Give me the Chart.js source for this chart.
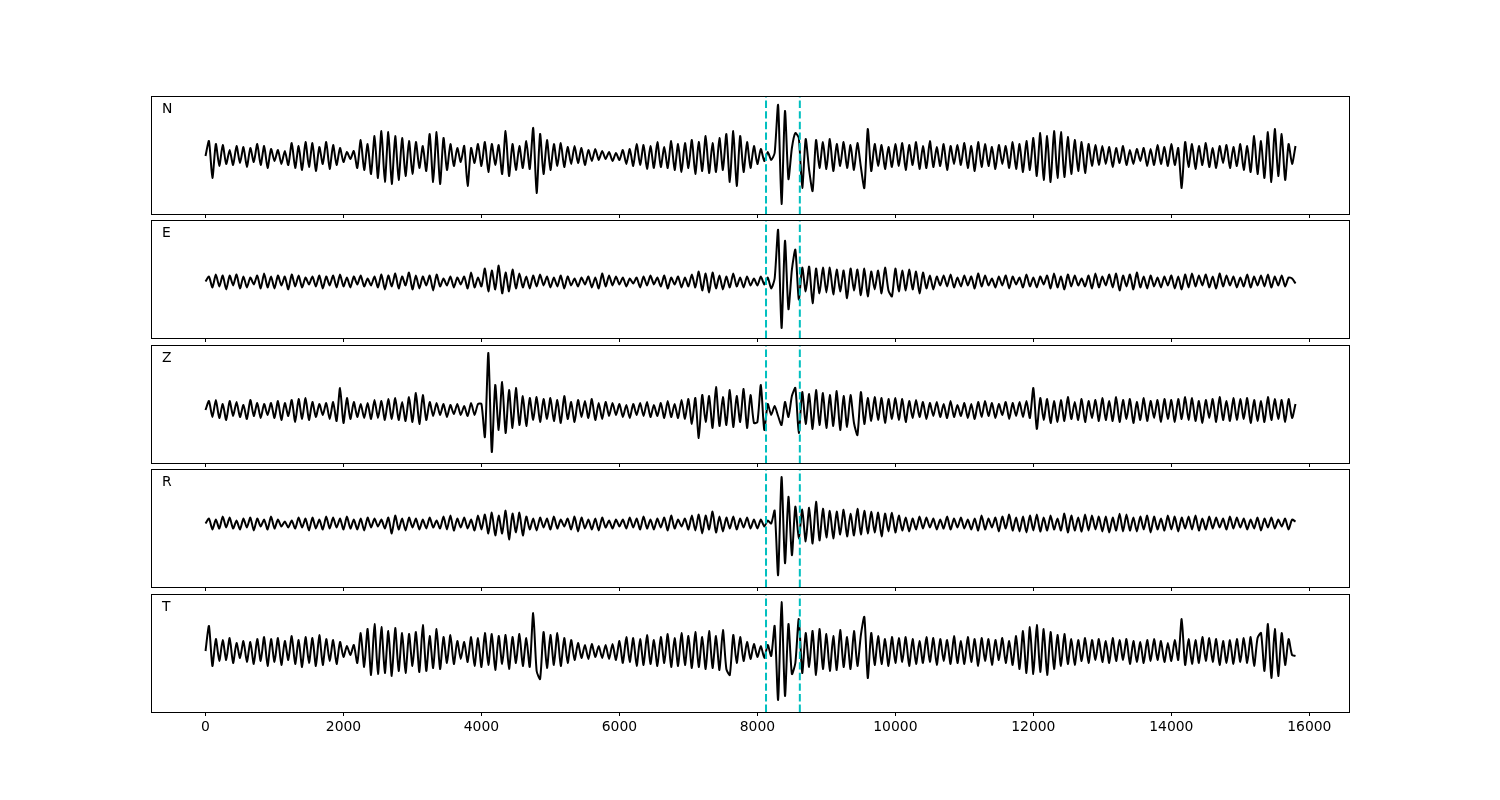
<!DOCTYPE html>
<html>
<head>
<meta charset="utf-8">
<script src="https://cdn.jsdelivr.net/npm/chart.js@4/dist/chart.umd.min.js"></script>
<style>
  body { margin: 0; background: #fff; }
  #wrap { position: relative; width: 1500px; height: 800px; }
  #wrap canvas { position: absolute; left: 0; }
</style>
</head>
<body>
<div id="wrap"></div>
<script>
// channel names, top to bottom
const channels = ['N', 'E', 'Z', 'R', 'T'];
// one value every 50 samples
const sampleStep = 50;
// phase picks (dashed lines)
const picks = [8125, 8615];
const xTicks = [0, 2000, 4000, 6000, 8000, 10000, 12000, 14000, 16000];

const nTrace = [
  0, 15, -22, 12, -10, 11, -8, 6, -9, 10, -7, 9, -11, 8, -6, 12, -9, 10, -12, 7,
  -5, 6, -8, 5, -9, 13, -12, 10, -14, 14, -11, 13, -15, 9, -8, 14, -13, 11, -9, 8,
  -6, 4, -3, 5, -12, 16, -14, 12, -18, 20, -22, 25, -26, 24, -28, 20, -24, 18, -20, 15,
  -18, 14, -12, 10, -15, 22, -26, 24, -28, 18, -14, 12, -10, 8, -6, 10, -30, 8, -7, 12,
  -10, 14, -16, 12, -9, 11, -18, 25, -20, 12, -14, 10, -12, 15, -13, 28, -37, 22, -18, 16,
  -14, 12, -10, 13, -11, 9, -8, 10, -7, 8, -9, 6, -5, 7, -4, 5, -3, 4, -5, 3,
  -4, 6, -8, 7, -10, 12, -9, 11, -13, 10, -12, 14, -11, 9, -12, 15, -14, 12, -16, 13,
  -12, 16, -18, 14, -15, 20, -17, 13, -16, 18, -14, 22, -26, 25, -30, 20, -16, 14, -12, 10,
  -8, 7, -5, 4, -4, 3, 51, -48, 45, -23, 8, 23, 18, -32, 17, -14, -35, 16, -12, 14,
  -13, 17, -15, 12, -10, 14, -12, 11, -14, 13, -11, -32, 27, -15, 12, -10, 11, -13, 9, -11,
  12, -10, 13, -14, 11, -9, 14, -13, 10, -12, 15, -11, 9, -10, 12, -14, 10, -8, 11, -9,
  13, -12, 10, -15, 14, -11, 12, -10, 9, -13, 11, -8, 10, -12, 14, -13, 12, -16, 15, -14,
  18, -20, 23, -24, 20, -26, 25, -22, 24, -21, 19, -18, 16, -15, 14, -17, 12, -10, 11, -9,
  10, -8, 9, -11, 8, -7, 10, -9, 6, -8, 7, -5, 8, -10, 7, -9, 11, -8, 9, -10,
  12, -9, 8, -32, 14, -11, 12, -13, 10, -9, 13, -11, 8, -12, 10, -7, 11, -12, 9, -10,
  12, -14, 10, -16, 20, -18, 15, -22, 24, -26, 27, -20, 22, -24, 12, -8, 10
];

const eTrace = [
  0, 5, -6, 7, -5, 6, -8, 6, -4, 7, -7, 5, -6, 4, -3, 6, -7, 8, -6, 5,
  -7, 6, -4, 5, -8, 7, -5, 6, -6, 4, -3, 5, -5, 6, -7, 5, -4, 6, -6, 7,
  -5, 4, -6, 5, -3, 6, -5, 3, -4, 5, -6, 7, -8, 6, -5, 8, -7, 5, -4, 9,
  -8, 6, -7, 5, -4, 6, -9, 7, -5, 3, -4, 5, -6, 4, -3, 5, -7, 9, -6, 4,
  -5, 13, -10, 11, -8, 16, -12, 9, -10, 12, -7, 8, -6, 5, -7, 6, -5, 7, -4, 5,
  -6, 4, -5, 6, -7, 5, -4, 3, -5, 4, -3, 5, -6, 4, -7, 8, -5, 6, -4, 5,
  -3, 4, -5, 3, -2, 4, -6, 5, -4, 6, -3, 4, -5, 6, -7, 4, -3, 5, -6, 4,
  -5, 7, -6, 10, -9, 8, -11, 9, -7, 6, -8, 5, -6, 8, -5, 4, -6, 5, -4, 3,
  -4, 5, -3, 4, -7, 3, 52, -47, 41, -28, 12, 32, -18, 14, -10, 15, -22, 13, -12, 14,
  -11, 14, -13, 12, -10, 11, -17, 13, -9, 12, -14, 13, -15, 10, -8, 11, -12, 14, -9, -15,
  13, -10, 11, -9, 12, -8, 10, -12, 9, -7, 6, -8, 5, -4, 6, -5, 7, -6, 4, -5,
  6, -4, 5, -7, 8, -5, 6, -4, 3, -6, 5, -4, 6, -7, 5, -3, 4, -6, 7, -5,
  4, -6, 5, -3, 6, -7, 8, -6, 5, -8, 7, -5, 6, -4, 3, -5, 6, -7, 8, -6,
  5, -4, 7, -6, 8, -9, 6, -5, 7, -8, 9, -6, 5, -7, 6, -5, 4, -6, 5, -4,
  6, -7, 5, -8, 7, -6, 8, -5, 6, -4, 7, -6, 5, -7, 8, -5, 6, -4, 5, -6,
  4, -5, 7, -6, 5, -4, 6, -5, 7, -6, 5, -4, 6, -5, 4, 3, -2
];

const zTrace = [
  0, 9, -7, 10, -8, 6, -10, 9, -6, 8, -7, 5, -9, 10, -6, 7, -8, 6, -5, 7,
  -8, 9, -10, 7, -6, 10, -12, 11, -9, 12, -10, 8, -7, 6, -5, 7, -9, 8, -11, 22,
  -13, 12, -9, 8, -7, 6, -8, 7, -9, 10, -8, 9, -10, 11, -9, 12, -10, 8, -11, 13,
  -12, 17, -14, 15, -10, 8, -6, 7, -5, 6, -7, 5, -4, 6, -5, 4, -6, 7, -5, 6,
  6, -27, 57, -42, 25, -20, 28, -23, 20, -18, 22, -15, 14, -16, 12, -10, 13, -12, 11, -9,
  12, -11, 10, -13, 14, -9, 8, -12, 10, -7, 9, -8, 11, -10, 7, -9, 8, -6, 7, -5,
  6, -7, 5, -8, 6, -5, 7, -6, 8, -7, 5, -6, 7, -8, 9, -7, 6, -8, 10, -9,
  11, -14, 12, -28, 15, -12, 14, -18, 23, -16, 13, -15, 20, -17, 14, -12, 21, -18, 15, -13,
  -12, 25, -20, 6, -5, 4, -6, -15, 8, -7, 14, 22, -23, 18, -14, 16, -19, 20, -15, 17,
  -18, 15, -16, 19, -20, 14, -17, 15, -13, -25, 18, -14, 12, -11, 13, -10, 12, -13, 11, -9,
  12, -10, 11, -12, 9, -8, 10, -7, 8, -9, 7, -6, 8, -7, 6, -8, 9, -7, 5, -6,
  7, -8, 6, -9, 8, -7, 9, -6, 7, -8, 6, -5, 8, -9, 7, -6, 8, -7, 9, -8,
  22, -19, 12, -10, 11, -13, 9, -12, 10, -11, 13, -9, 8, -10, 11, -12, 9, -8, 10, -11,
  12, -10, 9, -11, 13, -12, 10, -9, 11, -13, 8, -10, 12, -11, 9, -8, 10, -12, 11, -9,
  10, -12, 11, -9, 13, -10, 12, -11, 9, -13, 10, -8, 11, -12, 13, -10, 9, -11, 12, -10,
  11, -9, 12, -13, 10, -11, 9, -12, 13, -10, 11, -9, 10, -12, 11, -8, 6
];

const rTrace = [
  0, 5, -6, 4, -5, 7, -4, 6, -5, 3, -6, 5, -4, 6, -7, 5, -3, 4, -6, 7,
  -5, 4, -3, 2, -4, 3, -5, 6, -4, 5, -7, 6, -5, 4, -6, 7, -5, 6, -4, 5,
  -6, 7, -5, 4, -6, 5, -7, 6, -4, 5, -3, 4, -5, 6, -10, 8, -6, 5, -7, 6,
  -4, 5, -6, 4, -5, 6, -4, 3, -5, 7, -6, 8, -7, 5, -4, 6, -5, 4, -7, 8,
  -6, 9, -10, 11, -12, 8, -10, 13, -16, 10, -9, 11, -12, 7, -6, 5, -7, 6, -4, 5,
  -6, 7, -5, 4, -3, 5, -6, 7, -8, 6, -5, 4, -6, 5, -7, 6, -4, 3, -5, 4,
  -3, 4, -5, 6, -4, 5, -6, 7, -5, 4, -6, 5, -4, 6, -7, 8, -5, 4, -3, 5,
  -6, 8, -7, 9, -10, 8, -6, 12, -9, 7, -8, 6, -5, 7, -6, 5, -4, 6, -5, 4,
  -5, 4, -3, 3, 0, 13, -52, 47, -40, 27, -32, 17, -15, 14, -18, 16, -20, 22, -17, 15,
  -14, 13, -15, 12, -11, 14, -13, 10, -12, 15, -11, 13, -10, 12, -9, 11, -13, 10, -8, 11,
  -9, 8, -7, 6, -8, 5, -6, 7, -5, 6, -4, 5, -6, 4, -5, 7, -6, 5, -4, 6,
  -5, 4, -6, 5, -7, 8, -6, 5, -4, 6, -8, 7, -5, 9, -7, 6, -8, 7, -9, 8,
  -7, 9, -8, 6, -7, 8, -6, 5, -7, 10, -9, 8, -7, 6, -8, 9, -7, 8, -6, 7,
  -8, 7, -9, 6, -7, 10, -8, 9, -7, 6, -8, 7, -6, 8, -9, 7, -6, 5, -7, 8,
  -6, 7, -8, 6, -5, 7, -6, 8, -7, 5, -6, 7, -5, 6, -4, 5, -6, 7, -5, 6,
  -4, 5, -6, 4, -5, 6, -7, 5, -4, 6, -5, 4, -3, 5, -6, 4, 2
];

const tTrace = [
  0, 25, -15, 12, -10, 11, -9, 13, -12, 8, -7, 10, -11, 9, -13, 12, -10, 14, -15, 12,
  -11, 13, -14, 10, -9, 15, -13, 11, -16, 14, -12, 13, -15, 16, -14, 12, -10, 11, -13, 9,
  -6, 5, -4, 6, -12, 18, -16, 22, -24, 27, -23, 24, -22, 20, -25, 23, -20, 18, -22, 17,
  -15, 19, -21, 26, -20, 15, -17, 22, -18, 14, -12, 16, -13, 10, -8, 9, -11, 14, -15, 13,
  -16, 18, -14, 17, -19, 15, -13, 16, -18, 14, -12, 17, -15, 13, -16, 38, -20, -28, 19, -17,
  16, -14, 18, -15, 13, -12, 11, -9, 8, -7, 6, -8, 7, -6, 5, -7, 6, -8, 7, -9,
  10, -12, 14, -11, 13, -15, 12, -14, 16, -13, 11, -15, 14, -12, 17, -16, 13, -15, 18, -14,
  15, -17, 19, -16, 14, -18, 20, -17, 15, -19, 21, -18, -24, 16, -12, 14, -10, 9, -8, 7,
  -6, 5, -7, 6, -5, 25, -49, 49, -45, 27, -23, -12, 32, -22, 18, -16, 20, -24, 22, -18,
  17, -20, 15, -19, 21, -16, 14, -18, 20, -15, 16, 34, -27, 18, -14, 15, -13, 12, -15, 14,
  -12, 13, -11, 14, -15, 12, -13, 10, -12, 14, -11, 13, -14, 12, -10, 11, -13, 15, -12, 10,
  -13, 14, -11, 12, -15, 13, -10, 12, -14, 11, -9, 13, -12, 10, -14, 15, -18, 20, -22, 24,
  -23, 26, -21, 22, -24, 19, -18, 16, -15, 17, -13, 12, -14, 11, -10, 13, -12, 11, -9, 12,
  -11, 10, -12, 13, -10, 11, -9, 12, -13, 10, -11, 9, -12, 11, -10, 12, -9, 10, -11, 8,
  -10, 11, -9, 32, -14, 12, -13, 11, -12, 14, -10, 13, -11, 12, -14, 10, -12, 11, -13, 12,
  -11, 13, -12, 14, -15, 13, 18, -20, 27, -27, 22, -25, 18, -14, 12, -4, -5
];

const traces = [nTrace, eTrace, zTrace, rTrace, tTrace];
const yLimits = [[-58, 60], [-57, 62], [-53, 65], [-64, 55], [-61, 57]];

// layout of the five stacked panels
const panelTops = [96, 220, 345, 469, 594];
const panelHeight = 118;
const padTop = 8;
const axisBand = 30;

// frame + channel letter
const framePlugin = {
    id: 'frame',
    afterDraw(chart, args, opts) {
        const ctx = chart.ctx;
        const a = chart.chartArea;
        ctx.save();
        ctx.strokeStyle = '#000';
        ctx.lineWidth = 1;
        ctx.strokeRect(Math.round(a.left) + 0.5, Math.round(a.top) + 0.5,
            Math.round(a.right - a.left) - 1, Math.round(a.bottom - a.top));
        ctx.fillStyle = '#000';
        ctx.font = '13.9px "DejaVu Sans"';
        ctx.textBaseline = 'alphabetic';
        ctx.fillText(opts.label, a.left + 11, a.top + 17);
        ctx.restore();
    }
};

const wrap = document.getElementById('wrap');

channels.forEach(function (name, k) {
    const canvas = document.createElement('canvas');
    canvas.width = 1500;
    canvas.height = padTop + panelHeight + axisBand;
    canvas.style.top = (panelTops[k] - padTop) + 'px';
    wrap.appendChild(canvas);

    const lim = yLimits[k];
    const isLast = k === channels.length - 1;
    const points = traces[k].map((v, i) => ({ x: i * sampleStep, y: v }));

    const pickSets = picks.map(p => ({
        data: [{ x: p, y: lim[0] }, { x: p, y: lim[1] }],
        borderColor: '#00bfbf',
        borderWidth: 2,
        borderDash: [7.4, 3.2],
        pointRadius: 0
    }));

    new Chart(canvas.getContext('2d'), {
        type: 'line',
        data: {
            datasets: pickSets.concat([{
                data: points,
                borderColor: '#000',
                borderWidth: 2,
                pointRadius: 0,
                tension: 0.22
            }])
        },
        options: {
            responsive: false,
            animation: false,
            devicePixelRatio: 1,
            layout: { padding: { left: 151, right: 150, top: padTop, bottom: 0 } },
            plugins: {
                legend: { display: false },
                tooltip: { enabled: false },
                frame: { label: name }
            },
            scales: {
                x: {
                    type: 'linear',
                    min: -790,
                    max: 16590,
                    afterBuildTicks: s => { s.ticks = xTicks.map(v => ({ value: v })); },
                    afterFit: s => { s.height = axisBand; },
                    grid: {
                        display: true,
                        drawOnChartArea: false,
                        drawTicks: true,
                        tickLength: 4,
                        color: '#000',
                        tickColor: '#000'
                    },
                    border: { display: false },
                    ticks: {
                        display: isLast,
                        color: '#000',
                        padding: 3,
                        maxRotation: 0,
                        autoSkip: false,
                        font: { family: 'DejaVu Sans', size: 13.9 },
                        callback: v => String(v)
                    }
                },
                y: { display: false, min: lim[0], max: lim[1] }
            }
        },
        plugins: [framePlugin]
    });
});
</script>
</body>
</html>
